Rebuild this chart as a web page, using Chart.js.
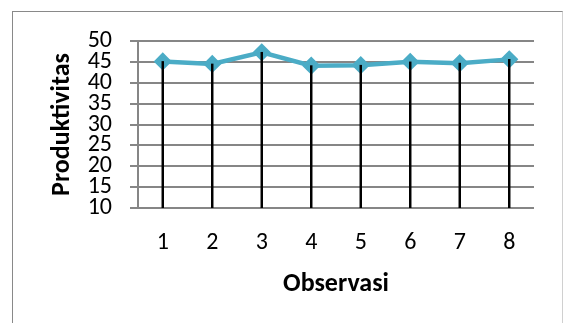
<!DOCTYPE html>
<html lang="id">
<head>
  <meta charset="UTF-8">
  <title>Produktivitas per Observasi</title>
  <style>
    body {
      margin: 0;
      background: #fff;
      overflow: hidden;
    }
    #frame {
      position: absolute;
      left: 12px;
      top: 11px;
      width: 549px;
      height: 330px;
      border: 1px solid #898989;
      border-right-color: #d0d0d0;
    }
    #chart {
      position: absolute;
      left: 0;
      top: 0;
    }
  </style>
</head>
<body>

  <div id="frame"></div>
  <canvas id="chart" width="563" height="323"></canvas>

  <script src="https://cdn.jsdelivr.net/npm/chart.js"></script>
  <script>
    // Data
    const observasi = ['1', '2', '3', '4', '5', '6', '7', '8'];
    const produktivitas = [45.1, 44.5, 47.3, 44.1, 44.2, 45.0, 44.7, 45.6];
    const yMin = 10;
    const yMax = 50;
    const yStep = 5;

    const fontFamily = 'Carlito, Calibri, Lato, sans-serif';
    const gridGray = '#868686';

    // drop lines from each point down to the axis minimum
    const dropLines = produktivitas.map(v => [yMin, v]);

    new Chart(document.getElementById('chart'), {
      type: 'bar',
      data: {
        labels: observasi,
        datasets: [
          {
            type: 'bar',
            data: dropLines,
            backgroundColor: '#000',
            barThickness: 1.8,
            order: 0
          },
          {
            type: 'line',
            data: produktivitas,
            borderColor: '#4BACC6',
            backgroundColor: '#4BACC6',
            borderWidth: 4.5,
            pointStyle: 'rectRot',
            pointRadius: 7,
            pointBorderWidth: 3,
            pointBorderColor: '#4BACC6',
            pointBackgroundColor: '#4BACC6',
            tension: 0,
            order: 1
          }
        ]
      },
      options: {
        responsive: false,
        animation: false,
        layout: {
          padding: { top: 41, right: 29, left: 47, bottom: 0 }
        },
        plugins: {
          legend: { display: false },
          tooltip: { enabled: false }
        },
        scales: {
          x: {
            offset: true,
            grid: { display: false, drawTicks: false },
            border: { display: false },
            ticks: {
              padding: 21,
              color: '#000',
              font: { family: fontFamily, size: 24 }
            },
            title: {
              display: true,
              text: 'Observasi',
              color: '#000',
              padding: { top: 0, bottom: 23 },
              font: { family: fontFamily, size: 26, weight: 'bold' }
            },
            afterFit: scale => { scale.height = 115; }
          },
          y: {
            min: yMin,
            max: yMax,
            grid: {
              color: gridGray,
              lineWidth: 2,
              tickLength: 8
            },
            border: { color: gridGray, width: 2 },
            ticks: {
              stepSize: yStep,
              autoSkip: false,
              padding: 18,
              color: '#000',
              font: { family: fontFamily, size: 24 }
            },
            title: {
              display: true,
              text: 'Produktivitas',
              color: '#000',
              padding: { top: 0, bottom: 0 },
              font: { family: fontFamily, size: 26, weight: 'bold' }
            },
            afterFit: scale => { scale.width = 91; }
          }
        }
      }
    });
  </script>

</body>
</html>
